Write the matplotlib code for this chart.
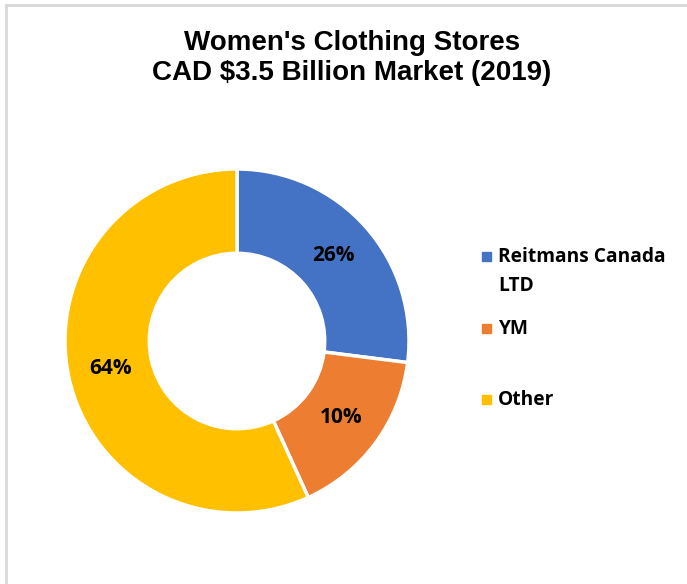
import matplotlib.pyplot as plt
from matplotlib.lines import Line2D
from matplotlib.patches import Rectangle

# data
categories = ['Reitmans Canada\nLTD', 'YM', 'Other']
wedge_sizes = [27.0, 16.2, 56.8]       # wedge angles as drawn
pct_labels = ['26%', '10%', '64%']      # labels as printed on the chart
colors = ['#4472C4', '#ED7D31', '#FFC000']

W, H = 687, 584
fig = plt.figure(figsize=(W / 100, H / 100), dpi=100)

# light grey frame (only left/top edges visible in the crop)
fig.add_artist(Line2D([6 / W, 6 / W], [0, 1 - 5 / H], color='#d9d9d9', lw=2))
fig.add_artist(Line2D([6 / W, 1], [1 - 5 / H, 1 - 5 / H], color='#d9d9d9', lw=2))

# donut axes: centre (237, 341), radius 172 px
cx, cy, r = 237, 341, 172
ax = fig.add_axes([(cx - r) / W, 1 - (cy + r) / H, 2 * r / W, 2 * r / H])
wedges, _, autotexts = ax.pie(
    wedge_sizes, colors=colors, startangle=90, counterclock=False,
    radius=1, autopct='%d', pctdistance=0.75,
    wedgeprops=dict(width=0.49, edgecolor='white', linewidth=2.5))
for t, lab in zip(autotexts, pct_labels):
    t.set_text(lab)
    t.set_fontfamily('Open Sans')
    t.set_fontweight('bold')
    t.set_fontsize(15)
    t.set_color('black')
ax.set_xlim(-1, 1)
ax.set_ylim(-1, 1)
ax.set_aspect('equal')
ax.axis('off')

fig.text(352 / W, 1 - 58 / H, "Women's Clothing Stores\nCAD $3.5 Billion Market (2019)",
         ha='center', va='center', fontsize=20, fontweight='bold',
         family='Liberation Sans', linespacing=1.17)

# legend, placed like the original
legend_y = [256, 328, 399]
for cat, col, y in zip(categories, colors, legend_y):
    fig.add_artist(Rectangle(((482) / W, 1 - (y + 4.5) / H), 9 / W, 9 / H,
                             transform=fig.transFigure, color=col))
    fig.text(498 / W, 1 - (y - 9) / H, cat, ha='left', va='top',
             fontsize=13.8, fontweight='bold', family='Open Sans', linespacing=1.6)

fig.savefig('out.png', dpi=100)
